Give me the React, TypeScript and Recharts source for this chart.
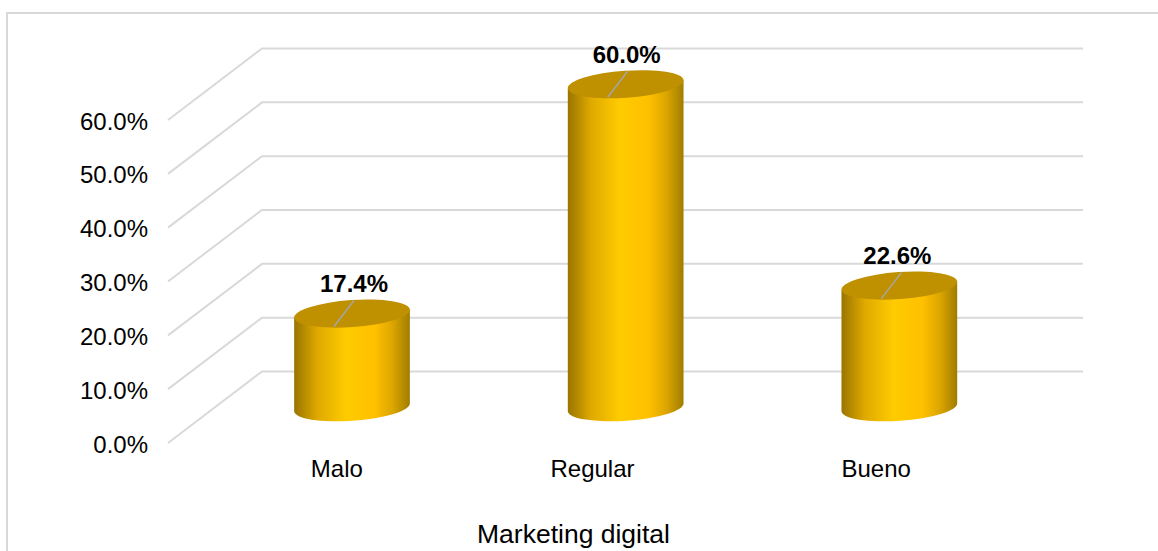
import React from 'react';
import { BarChart, Bar, XAxis, YAxis, CartesianGrid, LabelList } from 'recharts';

const categories = ['Malo', 'Regular', 'Bueno'];
const values = [17.4, 60.0, 22.6];
const yTicks = [0, 10, 20, 30, 40, 50, 60];

const chartData = categories.map((name, i) => ({ name, value: values[i] }));

// fake 3D depth: back wall sits this far from the front edge
const DEPTH_X = 94;
const DEPTH_Y = 71.5;
const RY = 13.5;
const TILT = -4; // degrees, the ellipses lean up to the right
const FONT = '"Liberation Sans", Arial, sans-serif';
// the category labels do not sit under the columns in the original
const labelShift: Record<string, number> = { Malo: 32, Regular: 14, Bueno: 24 };
const valueLabelShift = [2, 1, -2];

const Cylinder = (props: any) => {
  const { x, y, width, height } = props;
  const cx = x + width / 2 + DEPTH_X / 2;
  const rx = width / 2;
  const top = y - DEPTH_Y / 2;
  const base = y + height - DEPTH_Y / 2;
  const ex = rx * Math.cos((TILT * Math.PI) / 180);
  const ey = rx * Math.sin((TILT * Math.PI) / 180);
  return (
    <g>
      <path
        d={`M${cx - ex},${top - ey} L${cx - ex},${base - ey} A${rx},${RY} ${TILT} 0 0 ${cx + ex},${base + ey} L${cx + ex},${top + ey} Z`}
        fill="url(#cylSide)"
      />
      <ellipse cx={cx} cy={top} rx={rx} ry={RY} fill="#bf9000" transform={`rotate(${TILT} ${cx} ${top})`} />
      <line x1={cx - 18} y1={top + 13} x2={cx + 2} y2={top - 13} stroke="#a6a6a6" strokeWidth={1.5} />
    </g>
  );
};

const ValueLabel = (props: any) => {
  const { x, y, width, value, index } = props;
  return (
    <text
      x={x + width / 2 + DEPTH_X / 2 + valueLabelShift[index]}
      y={y - DEPTH_Y / 2 - 30}
      textAnchor="middle"
      dominantBaseline="central"
      fontFamily={FONT}
      fontSize={24}
      fontWeight="bold"
      fill="#000"
    >
      {value.toFixed(1)}%
    </text>
  );
};

const CategoryTick = (props: any) => {
  const { x, y, payload } = props;
  return (
    <text
      x={x + labelShift[payload.value]}
      y={y - 1}
      textAnchor="middle"
      dominantBaseline="central"
      fontFamily={FONT}
      fontSize={24}
      fill="#000"
    >
      {payload.value}
    </text>
  );
};

const ValueTick = (props: any) => {
  const { x, y, payload } = props;
  return (
    <text
      x={x}
      y={y + 1}
      textAnchor="end"
      dominantBaseline="central"
      fontFamily={FONT}
      fontSize={24}
      fill="#000"
    >
      {payload.value.toFixed(1)}%
    </text>
  );
};

// gridline runs up the side wall, then along the back wall
const GridLine = (props: any) => {
  const { x1, y1, x2, key } = props;
  return (
    <path
      key={key}
      d={`M${x1},${y1} L${x1 + DEPTH_X},${y1 - DEPTH_Y} L${x2 + DEPTH_X},${y1 - DEPTH_Y}`}
      fill="none"
      stroke="#d9d9d9"
      strokeWidth={2}
    />
  );
};

export default function App() {
  return (
    <div style={{ position: 'absolute', left: 0, top: 0, width: 1158, height: 551, overflow: 'hidden', background: '#fff' }}>
      <div
        style={{
          position: 'absolute',
          left: 6,
          top: 12,
          width: 1200,
          height: 600,
          border: '2px solid #d9d9d9',
          boxSizing: 'border-box',
        }}
      />
      <div style={{ position: 'absolute', left: 0, top: 0 }}>
        <BarChart
          width={1158}
          height={551}
          data={chartData}
          margin={{ top: 120, right: 169, bottom: 0, left: 0 }}
          barSize={116}
        >
          <defs>
            <linearGradient id="cylSide" x1="0" y1="0" x2="1" y2="0">
              <stop offset="0" stopColor="#997500" />
              <stop offset="0.2" stopColor="#dfa900" />
              <stop offset="0.45" stopColor="#ffcb00" />
              <stop offset="0.7" stopColor="#ffc000" />
              <stop offset="0.85" stopColor="#dca600" />
              <stop offset="1" stopColor="#a07c00" />
            </linearGradient>
          </defs>
          <CartesianGrid vertical={false} horizontal={GridLine as any} />
          <XAxis
            dataKey="name"
            height={108}
            axisLine={false}
            tickLine={false}
            tickSize={0}
            tickMargin={26}
            interval={0}
            tick={<CategoryTick />}
            label={{
              value: 'Marketing digital',
              position: 'insideBottom',
              offset: 8,
              dx: -5,
              fontFamily: FONT,
              fontSize: 26.5,
              fill: '#000',
            }}
          />
          <YAxis
            width={168}
            domain={[0, 60]}
            ticks={yTicks}
            axisLine={false}
            tickLine={false}
            tickSize={0}
            tickMargin={20}
            tick={<ValueTick />}
          />
          <Bar dataKey="value" shape={<Cylinder />} isAnimationActive={false}>
            <LabelList dataKey="value" content={<ValueLabel />} />
          </Bar>
        </BarChart>
      </div>
    </div>
  );
}
